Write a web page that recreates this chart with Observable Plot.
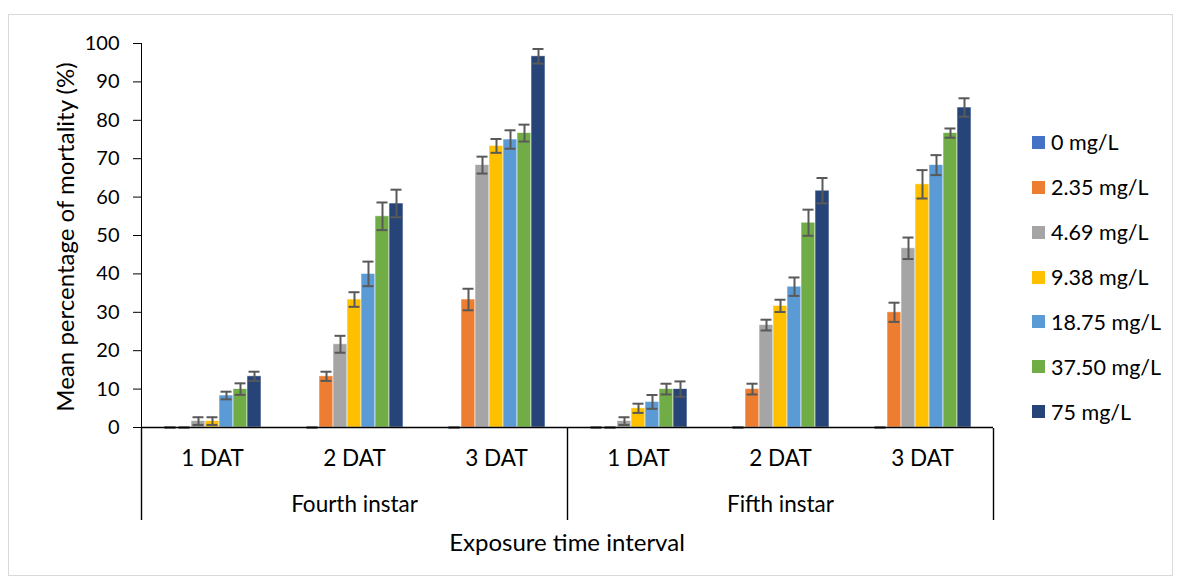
<!DOCTYPE html>
<html>
<head>
<meta charset="utf-8">
<script src="https://cdn.jsdelivr.net/npm/d3@7"></script>
<script src="https://cdn.jsdelivr.net/npm/@observablehq/plot@0.6"></script>
<style>
  body { margin: 0; background: #fff; }
  #wrap { position: relative; width: 1181px; height: 583px; font-family: Lato, "Open Sans", sans-serif; color: #000; overflow: hidden; }
  #border { position: absolute; left: 8px; top: 14px; width: 1165px; height: 562px; border: 1px solid #D9D9D9; box-sizing: border-box; }
  .layer { position: absolute; left: 0; top: 0; }
  #ytitle { position: absolute; left: 64px; top: 237px; transform: translate(-50%, -50%) rotate(-90deg); white-space: nowrap; font-size: 24px; }
  #xtitle { position: absolute; left: 141px; width: 852px; top: 527px; text-align: center; font-size: 24px; }
  #legend { position: absolute; left: 1032px; top: 0; }
  .lrow { position: absolute; left: 0; display: flex; align-items: center; white-space: nowrap; font-size: 21.5px; transform: translateY(-50%); }
  .sw { width: 13px; height: 13px; margin-right: 6px; }
</style>
</head>
<body>
<div id="wrap">
  <div id="border"></div>
  <div id="main" class="layer"></div>
  <div id="brackets" class="layer"></div>
  <div id="ytitle">Mean percentage of mortality (%)</div>
  <div id="xtitle">Exposure time interval</div>
  <div id="legend"></div>
</div>
<script>
// ---- data ----
const concentrations = ["0 mg/L", "2.35 mg/L", "4.69 mg/L", "9.38 mg/L", "18.75 mg/L", "37.50 mg/L", "75 mg/L"];
const colors = ["#4472C4", "#ED7D31", "#A5A5A5", "#FFC000", "#5B9BD5", "#70AD47", "#264478"];
const instars = ["Fourth instar", "Fifth instar"];
const days = ["1 DAT", "2 DAT", "3 DAT"];
const yTicks = [0, 10, 20, 30, 40, 50, 60, 70, 80, 90, 100];

// mean mortality (%) per concentration
const fourth1DAT = [0, 0, 1.67, 1.67, 8.33, 10, 13.33];
const fourth2DAT = [0, 13.33, 21.67, 33.33, 40, 55, 58.33];
const fourth3DAT = [0, 33.33, 68.33, 73.33, 75, 76.67, 96.67];
const fifth1DAT  = [0, 0, 1.67, 5, 6.67, 10, 10];
const fifth2DAT  = [0, 10, 26.67, 31.67, 36.67, 53.33, 61.67];
const fifth3DAT  = [0, 30, 46.67, 63.33, 68.33, 76.67, 83.33];

// standard errors
const fourth1Err = [0, 0, 1, 1, 1, 1.5, 1.2];
const fourth2Err = [0, 1.2, 2.2, 1.9, 3.2, 3.6, 3.6];
const fourth3Err = [0, 2.8, 2.2, 1.8, 2.4, 2.2, 1.9];
const fifth1Err  = [0, 0, 1, 1.2, 1.8, 1.4, 2];
const fifth2Err  = [0, 1.4, 1.4, 1.6, 2.4, 3.4, 3.3];
const fifth3Err  = [0, 2.5, 2.8, 3.7, 2.6, 1.2, 2.4];

const means = [[fourth1DAT, fourth2DAT, fourth3DAT], [fifth1DAT, fifth2DAT, fifth3DAT]];
const errs  = [[fourth1Err, fourth2Err, fourth3Err], [fifth1Err, fifth2Err, fifth3Err]];

// ---- table ----
const groups = [];
const rows = [];
instars.forEach((inst, i) => days.forEach((day, j) => {
  const g = inst + "|" + day;
  groups.push(g);
  concentrations.forEach((c, k) => rows.push({group: g, conc: c, mean: means[i][j][k], err: errs[i][j][k]}));
}));

const W = 1181, H = 583;
const font = "Lato, 'Open Sans', sans-serif";

const main = Plot.plot({
  width: W, height: H,
  marginLeft: 141, marginRight: 188, marginTop: 43, marginBottom: 156,
  style: {fontFamily: font, fontSize: "20px", background: "transparent", color: "#000"},
  fx: {domain: groups, padding: 0, axis: "bottom", tickSize: 0, tickPadding: 23, label: null, tickFormat: d => d.split("|")[1]},
  x: {domain: concentrations, axis: null, paddingInner: 0, paddingOuter: 1.57},
  y: {domain: [0, 100], ticks: yTicks, tickSize: 8, tickPadding: 14, label: null, line: true},
  color: {domain: concentrations, range: colors},
  marks: [
    Plot.barY(rows, {fx: "group", x: "conc", y: "mean", fill: "conc", stroke: "white", strokeWidth: 0.8, strokeOpacity: 0.7}),
    Plot.ruleX(rows, {fx: "group", x: "conc", y1: d => d.mean - d.err, y2: d => d.mean + d.err, stroke: "#595959", strokeWidth: 2}),
    Plot.tickY(rows, {fx: "group", x: "conc", y: d => d.mean + d.err, stroke: "#595959", strokeWidth: 2, insetLeft: 1.5, insetRight: 1.5}),
    Plot.tickY(rows, {fx: "group", x: "conc", y: d => d.mean - d.err, stroke: "#595959", strokeWidth: 2, insetLeft: 1.5, insetRight: 1.5}),
    Plot.ruleY([0], {stroke: "#000", strokeWidth: 1.4})
  ]
});
// larger category labels than the numeric ticks
main.querySelectorAll("text").forEach(t => {
  if (days.includes(t.textContent.trim())) t.style.fontSize = "22.5px";
});
document.getElementById("main").appendChild(main);

// second-level category axis (instars)
const bounds = d3.range(instars.length + 1);
const brackets = Plot.plot({
  width: W, height: H,
  marginLeft: 141, marginRight: 188, marginTop: 428, marginBottom: 63,
  style: {fontFamily: font, fontSize: "22.5px", background: "transparent", color: "#000"},
  x: {domain: [0, instars.length], axis: null},
  y: {domain: [0, 1], axis: null},
  marks: [
    Plot.ruleX(bounds, {stroke: "#000", strokeWidth: 1.4}),
    Plot.text(instars, {x: (d, i) => i + 0.5, text: d => d, frameAnchor: "bottom", dy: -9, fill: "#000", fontSize: 22.5})
  ]
});
document.getElementById("brackets").appendChild(brackets);

// legend
const legend = document.getElementById("legend");
concentrations.forEach((c, k) => {
  const row = document.createElement("div");
  row.className = "lrow";
  row.style.top = (142.3 + k * 44.9) + "px";
  const sw = document.createElement("div");
  sw.className = "sw";
  sw.style.background = colors[k];
  const t = document.createElement("span");
  t.textContent = c;
  row.appendChild(sw); row.appendChild(t);
  legend.appendChild(row);
});
</script>
</body>
</html>
